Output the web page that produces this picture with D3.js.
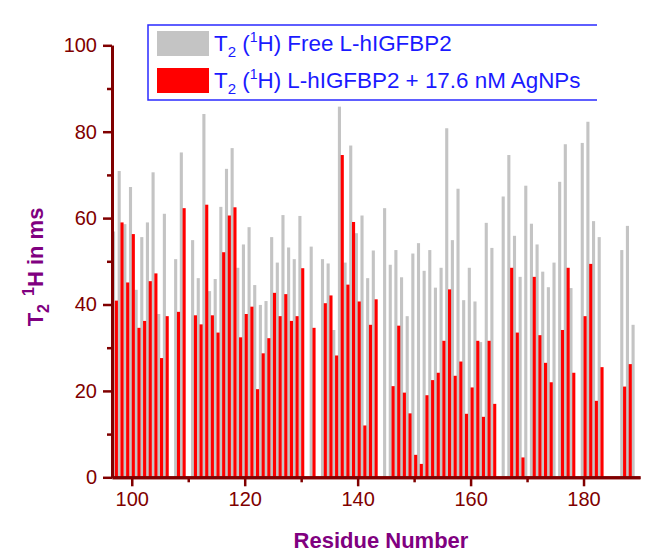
<!DOCTYPE html>
<html>
  <head>
    <meta http-equiv="Content-Type" content="text/html;charset=utf-8">
    <title>T2 relaxation per residue</title>
    <script type="text/javascript" src="https://d3js.org/d3.v7.min.js"></script>
    <style>
      html, body {
        margin: 0;
        padding: 0;
        background: #fff;
      }
      text {
        font-family: Arial, "Liberation Sans", sans-serif;
      }
      .axis path,
      .axis line {
        fill: none;
        stroke: #800000;
      }
      .axis text {
        fill: #800000;
        font-size: 20px;
      }
    </style>
  </head>
  <body>
    <script type="text/javascript">

// residue numbers that have data
var residues = [97, 98, 99, 100, 101, 102, 103, 104, 105, 106, 108, 109, 111, 112, 113, 114, 115, 116, 117, 118, 119, 120,
  121, 122, 123, 124, 125, 126, 127, 128, 129, 130, 132, 134, 135, 136, 137, 138, 139, 140, 141, 142, 143,
  145, 146, 147, 148, 149, 150, 151, 152, 153, 154, 155, 156, 157, 158, 159, 160, 161, 162, 163, 164,
  166, 167, 168, 169, 170, 171, 172, 173, 174, 175, 176, 177, 178, 180, 181, 182, 183, 187, 188, 189];

// T2 (1H) free L-hIGFBP2, ms
var freeT2 = [56.9, 70.9, 58.6, 67.2, 43.4, 55.6, 59.0, 70.6, 37.8, 61.0, 50.5, 75.2, 54.9, 46.1, 84.1, 43.1, 45.9, 62.6, 71.4, 76.2, 48.5, 53.9,
  57.9, 44.5, 39.9, 40.8, 55.6, 49.7, 60.7, 53.2, 50.5, 60.5, 53.4, 50.5, 49.5, 34.1, 85.8, 49.7, 76.8, 56.5, 60.6, 46.1, 52.5,
  62.3, 49.2, 52.6, 46.3, 37.3, 51.8, 54.2, 47.8, 52.6, 43.9, 48.5, 80.8, 54.9, 66.8, 41.0, 48.5, 40.7, 31.3, 58.9, 53.1,
  65.0, 74.6, 55.9, 46.4, 67.5, 58.7, 53.9, 47.6, 44.0, 49.7, 68.4, 77.1, 43.8, 77.4, 82.3, 59.3, 55.6, 52.6, 58.2, 35.3];

// T2 (1H) L-hIGFBP2 + 17.6 nM AgNPs, ms (null = not measured)
var agT2 = [40.9, 59.0, 45.1, 56.3, 34.6, 36.2, 45.4, 47.2, 27.6, 37.3, 38.3, 62.3, 37.5, 35.4, 63.1, 37.5, 33.5, 52.1, 60.6, 62.5, 32.4, 37.8,
  39.5, 20.4, 28.7, 32.2, 42.7, 37.3, 42.4, 36.2, 37.3, 48.4, 34.6, 40.3, 42.1, 28.2, 74.6, 44.6, 59.1, 40.7, 12.0, 35.3, 41.2,
  null, 21.1, 35.1, 19.6, 14.8, 5.2, 3.1, 19.0, 22.5, 24.2, 31.6, 43.5, 23.5, 26.8, 14.7, 20.8, 31.6, 14.0, 31.6, 17.0,
  null, 48.5, 33.5, 4.6, null, 46.4, 32.9, 26.5, 22.0, null, 34.1, 48.5, 24.2, 37.3, 49.4, 17.7, 25.5, 21.0, 26.2, null];

var xMajor = [100, 120, 140, 160, 180];
var xMinor = [110, 130, 150, 170];
var yMajor = [0, 20, 40, 60, 80, 100];
var yMinor = [10, 30, 50, 70, 90];

var W = 648, H = 554;

var x = d3.scaleLinear().domain([96.5, 190]).range([112, 640]);
var y = d3.scaleLinear().domain([0, 100]).range([477.3, 45.3]);

var svg = d3.select("body").append("svg").attr("width", W).attr("height", H);

var rows = residues.map(function(r, i) { return { res: r, free: freeT2[i], ag: agT2[i] }; });

// gray bars (free) sit left of the residue, red ones right
svg.append("g").selectAll("rect")
  .data(rows)
  .enter().append("rect")
  .attr("x", function(d) { return x(d.res - 0.5); })
  .attr("width", function(d) { return x(d.res + 0.05) - x(d.res - 0.5); })
  .attr("y", function(d) { return y(d.free); })
  .attr("height", function(d) { return y(0) - y(d.free); })
  .attr("fill", "#c4c4c4");

svg.append("g").selectAll("rect")
  .data(rows.filter(function(d) { return d.ag != null; }))
  .enter().append("rect")
  .attr("x", function(d) { return x(d.res); })
  .attr("width", function(d) { return x(d.res + 0.55) - x(d.res); })
  .attr("y", function(d) { return y(d.ag); })
  .attr("height", function(d) { return y(0) - y(d.ag); })
  .attr("fill", "#ff0000");

// axes
svg.append("g").attr("class", "axis x")
  .attr("transform", "translate(0," + y(0) + ")")
  .call(d3.axisBottom(x).tickValues(xMajor).tickSize(9).tickSizeOuter(0).tickPadding(6));
svg.append("g").attr("class", "axis x")
  .attr("transform", "translate(0," + y(0) + ")")
  .call(d3.axisBottom(x).tickValues(xMinor).tickSize(5).tickSizeOuter(0).tickFormat(""));

svg.append("g").attr("class", "axis y")
  .attr("transform", "translate(" + x(96.5) + ",0)")
  .call(d3.axisLeft(y).tickValues(yMajor).tickSize(9).tickSizeOuter(0).tickPadding(6));
svg.append("g").attr("class", "axis y")
  .attr("transform", "translate(" + x(96.5) + ",0)")
  .call(d3.axisLeft(y).tickValues(yMinor).tickSize(5).tickSizeOuter(0).tickFormat(""));

svg.selectAll(".axis path").attr("stroke-width", 3);
svg.selectAll(".axis line").attr("stroke-width", 2.5);

// axis titles
svg.append("text")
  .attr("x", 381).attr("y", 548)
  .attr("text-anchor", "middle")
  .attr("fill", "#800080")
  .attr("font-weight", "bold")
  .attr("font-size", "22px")
  .text("Residue Number");

var yt = svg.append("text")
  .attr("transform", "translate(43,267) rotate(-90)")
  .attr("text-anchor", "middle")
  .attr("fill", "#800080")
  .attr("font-weight", "bold")
  .attr("font-size", "22px");
yt.append("tspan").text("T");
yt.append("tspan").attr("dy", 6).attr("font-size", "16px").text("2");
yt.append("tspan").attr("dx", 8).attr("dy", -15).attr("font-size", "16px").text("1");
yt.append("tspan").attr("dy", 9).text("H in ms");

// legend: white box, blue border on left/top/bottom only
var legend = svg.append("g");
legend.append("rect")
  .attr("x", 148).attr("y", 25)
  .attr("width", 449).attr("height", 75)
  .attr("fill", "#fff");
legend.append("path")
  .attr("d", "M597,25H148V100H597")
  .attr("fill", "none")
  .attr("stroke", "#2a2aff")
  .attr("stroke-width", 1.5);

var items = [
  { color: "#c4c4c4", label: ") Free L-hIGFBP2" },
  { color: "#ff0000", label: ") L-hIGFBP2 + 17.6 nM AgNPs" }
];

items.forEach(function(it, i) {
  var cy = 43 + i * 37;
  legend.append("rect")
    .attr("x", 157).attr("y", cy - 12)
    .attr("width", 52).attr("height", 25)
    .attr("fill", it.color);
  var t = legend.append("text")
    .attr("x", 214).attr("y", cy + 8)
    .attr("fill", "#1a1aff")
    .attr("font-size", "22.4px");
  t.append("tspan").text("T");
  t.append("tspan").attr("dy", 6).attr("font-size", "15px").text("2");
  t.append("tspan").attr("dy", -6).text(" (");
  t.append("tspan").attr("dy", -9).attr("font-size", "14px").text("1");
  t.append("tspan").attr("dy", 9).text("H" + it.label);
});

    </script>
  </body>
</html>
